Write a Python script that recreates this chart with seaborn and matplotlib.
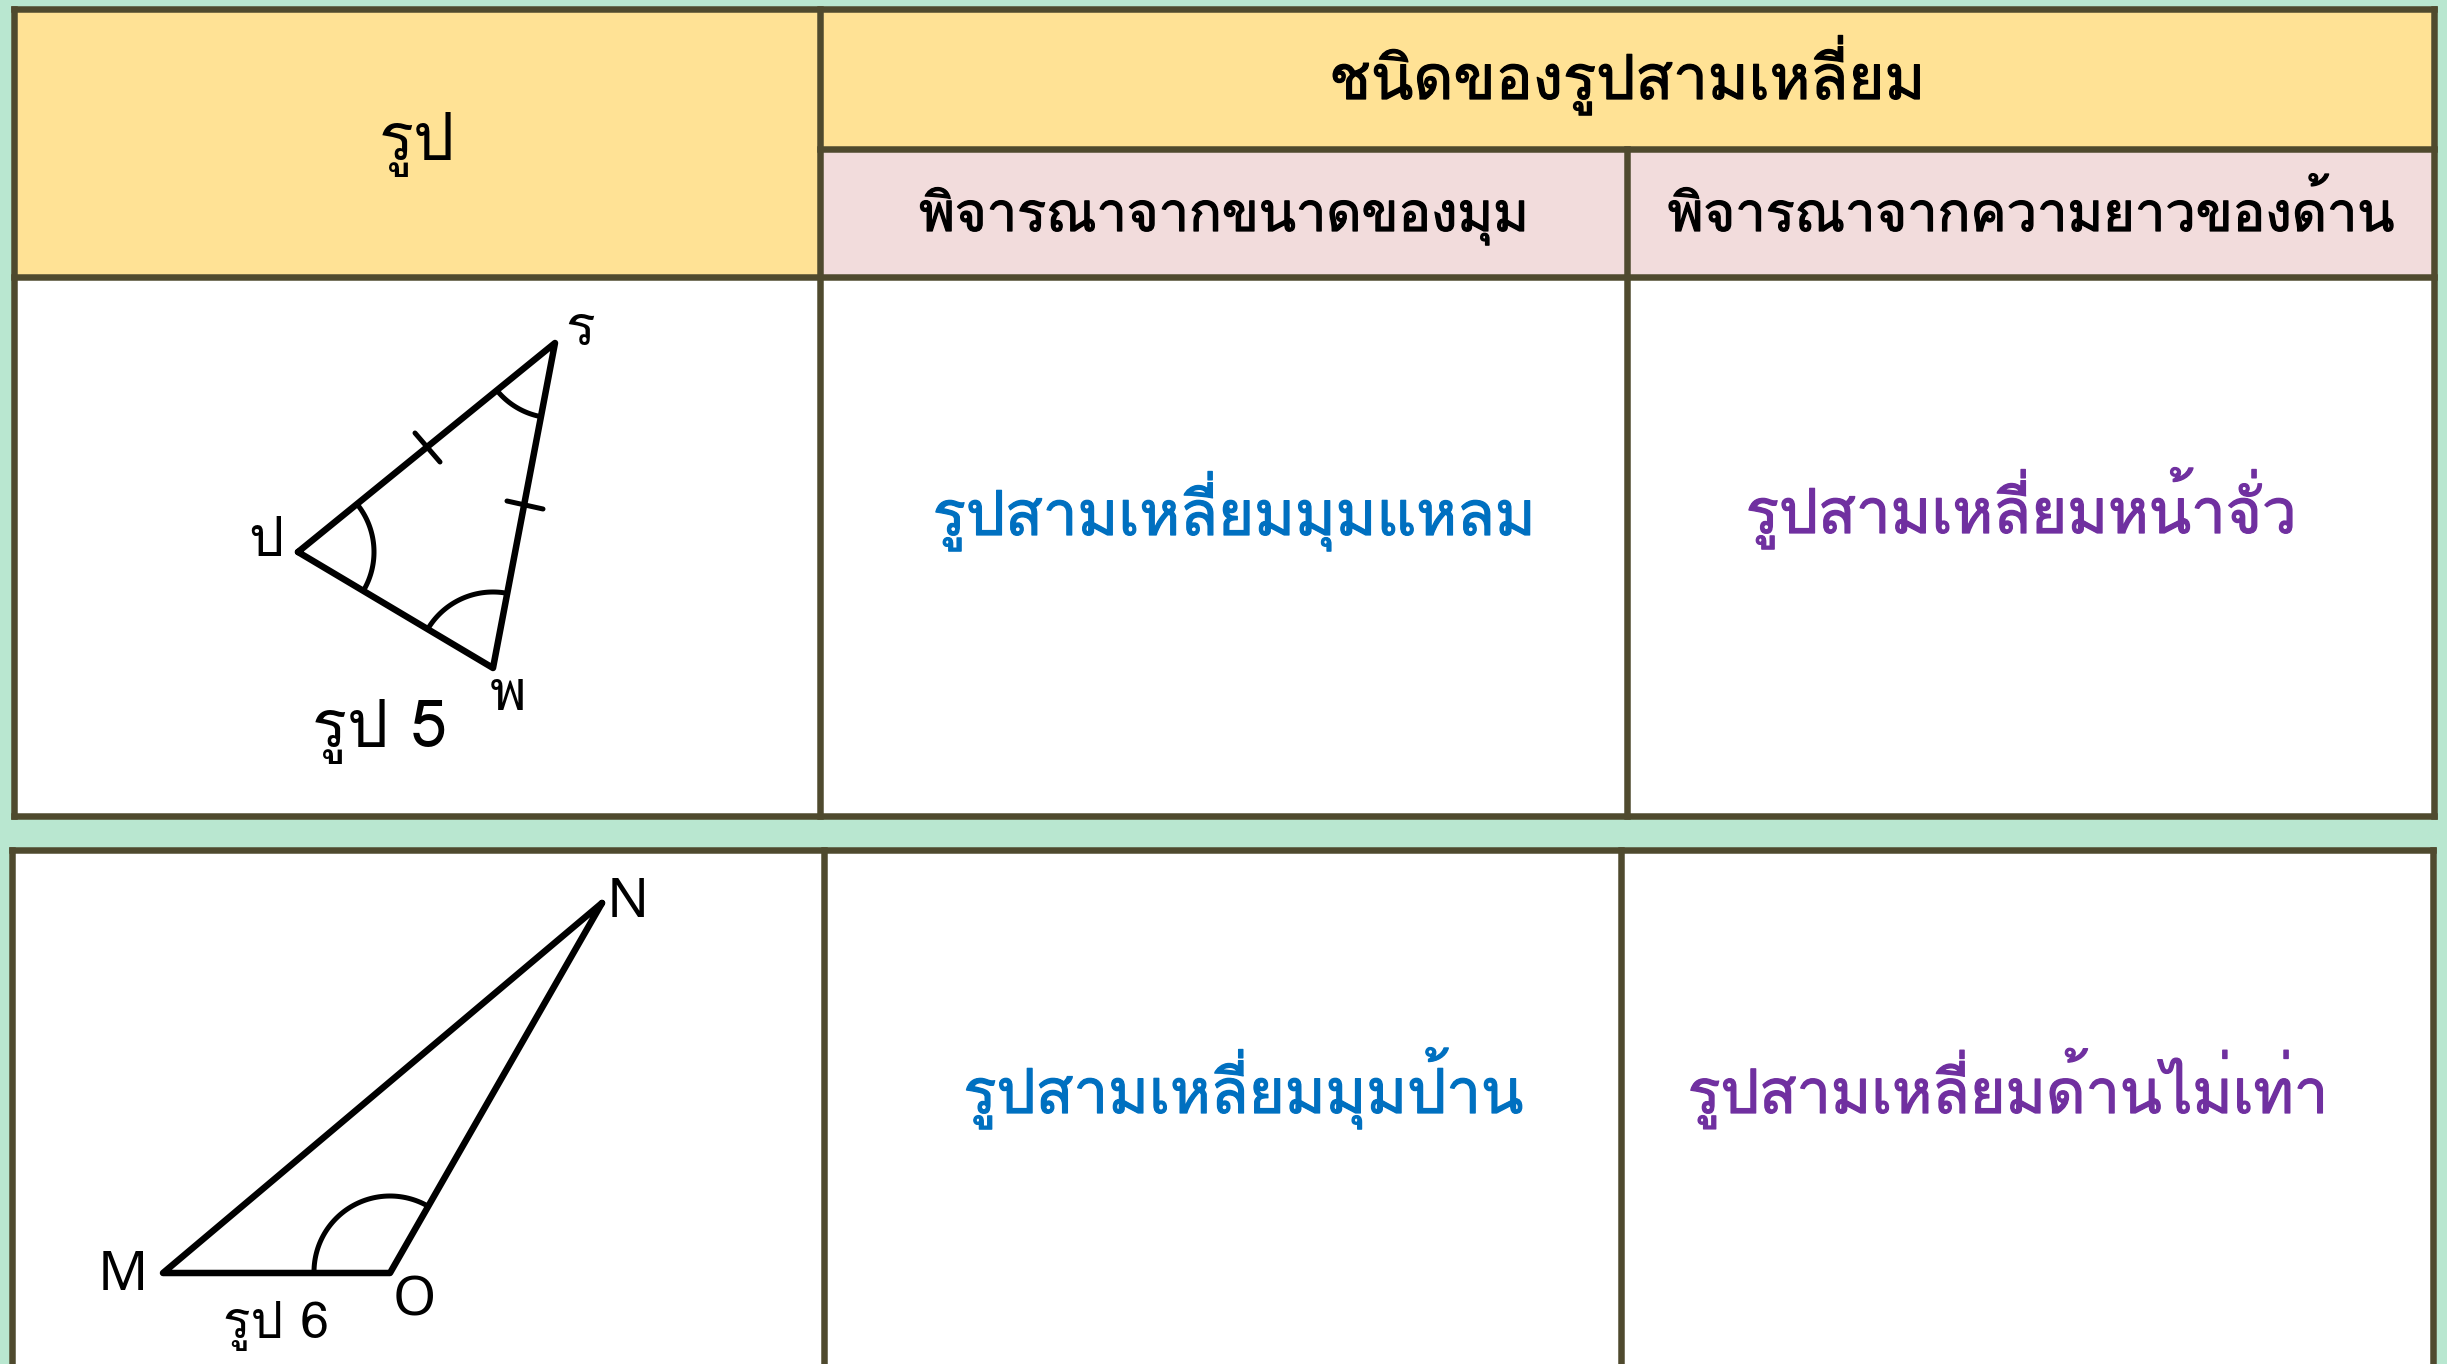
import matplotlib
matplotlib.use('Agg')
import numpy as np
import pandas as pd
import matplotlib.pyplot as plt
import matplotlib.patheffects as pe
import seaborn as sns
from matplotlib.patches import Rectangle

sns.set_theme(style='white')
plt.rcParams['font.family'] = ['Loma', 'Noto Sans Thai Looped', 'Noto Sans', 'DejaVu Sans']

# สี
GREEN = '#b9e7d0'
YELLOW = '#ffe295'
PINK = '#f2dcdc'
LINE = '#4f4a2e'
BLUE = '#0070c0'
PURPLE = '#7030a0'

# ข้อความ
head_shape = 'รูป'
head_type = 'ชนิดของรูปสามเหลี่ยม'
head_angle = 'พิจารณาจากขนาดของมุม'
head_side = 'พิจารณาจากความยาวของด้าน'
row1_angle = 'รูปสามเหลี่ยมมุมแหลม'
row1_side = 'รูปสามเหลี่ยมหน้าจั่ว'
row2_angle = 'รูปสามเหลี่ยมมุมป้าน'
row2_side = 'รูปสามเหลี่ยมด้านไม่เท่า'

# รูป 5
tri5_x = [298, 555, 493, 298]
tri5_y = [552, 343, 668, 552]
tick5 = [((415, 433), (440, 462)), ((507, 501), (543, 509))]
arcs5 = [(298, 552, 76, -38, 30), (555, 343, 75, 101, 139), (493, 668, 76, -148, -80)]
# รูป 6
tri6_x = [602, 163, 390, 602]
tri6_y = [903, 1273, 1273, 903]
arcs6 = [(390, 1272, 76, -180, -60)]

fig = plt.figure(figsize=(24.47, 13.64), facecolor=GREEN)
ax = fig.add_axes([0, 0, 1, 1])
ax.set_xlim(0, 2447)
ax.set_ylim(1364, 0)
ax.axis('off')


def cell(x0, y0, x1, y1, color):
    ax.add_patch(Rectangle((x0, y0), x1 - x0, y1 - y0, facecolor=color, edgecolor='none', zorder=1))


def rule(xs, ys, lw=6.5):
    # lw เป็นพิกเซล
    ax.plot(xs, ys, color=LINE, lw=lw * 0.72, solid_capstyle='projecting', zorder=2)


def draw_arc(x, y, r, a0, a1, lw=5):
    t = np.radians(np.linspace(a0, a1, 60))
    ax.plot(x + r * np.cos(t), y + r * np.sin(t), color='black', lw=lw * 0.72, zorder=3)


def label(x, y, s, size, color='black', bold=0.9, **kw):
    t = ax.text(x, y, s, fontsize=size, color=color, ha='center', va='baseline', zorder=4, **kw)
    if bold:
        # ฟอนต์บางกว่าต้นฉบับเล็กน้อย
        t.set_path_effects([pe.withStroke(linewidth=bold, foreground=color)])


# ตารางบน
cell(14, 9, 820, 277, YELLOW)
cell(820, 9, 2434, 149, YELLOW)
cell(820, 149, 2434, 277, PINK)
cell(14, 277, 2434, 816, 'white')
for y in [9, 277, 816]:
    rule([14, 2434], [y, y])
rule([820, 2434], [149, 149])
rule([14, 14], [9, 816])
rule([820, 820], [9, 816])
rule([1627, 1627], [149, 816])
rule([2434, 2434], [9, 816])

# ตารางล่าง
cell(12, 850, 2433, 1364, 'white')
rule([12, 2433], [850, 850])
for x in [12, 824, 1621, 2433]:
    rule([x, x], [850, 1370])

# สามเหลี่ยม
df5 = pd.DataFrame({'x': tri5_x, 'y': tri5_y})
sns.lineplot(data=df5, x='x', y='y', sort=False, estimator=None, color='black', lw=6.5 * 0.72, ax=ax, zorder=3)
for (a, b) in tick5:
    ax.plot([a[0], b[0]], [a[1], b[1]], color='black', lw=5 * 0.72, zorder=3)
for a in arcs5:
    draw_arc(*a)

df6 = pd.DataFrame({'x': tri6_x, 'y': tri6_y})
sns.lineplot(data=df6, x='x', y='y', sort=False, estimator=None, color='black', lw=6.5 * 0.72, ax=ax, zorder=3)
for a in arcs6:
    draw_arc(*a)
ax.set_xlim(0, 2447)
ax.set_ylim(1364, 0)
ax.axis('off')

# หัวตาราง
label(417, 160, head_shape, 47, bold=0)
label(1627, 99, head_type, 44.5)
label(1224, 231, head_angle, 39)
label(2031, 231, head_side, 39)

# คำตอบ
label(1234, 535, row1_angle, 44.5, BLUE)
label(2021, 533, row1_side, 44.5, PURPLE)
label(1243, 1113, row2_angle, 44.5, BLUE)
label(2008, 1113, row2_side, 44, PURPLE)

# ชื่อจุด
label(580, 345, 'ร', 40, bold=0)
label(266, 556, 'ป', 40, bold=0)
label(508, 710, 'พ', 40, bold=0)
label(379, 747, 'รูป 5', 47, bold=0)
label(123, 1290, 'M', 40, bold=0, family='Noto Sans')
label(628, 917, 'N', 40, bold=0, family='Noto Sans')
label(414, 1316, 'O', 40, bold=0, family='Noto Sans')
label(276, 1338, 'รูป 6', 37, bold=0)

fig.savefig('out.png', dpi=100, facecolor=GREEN)
